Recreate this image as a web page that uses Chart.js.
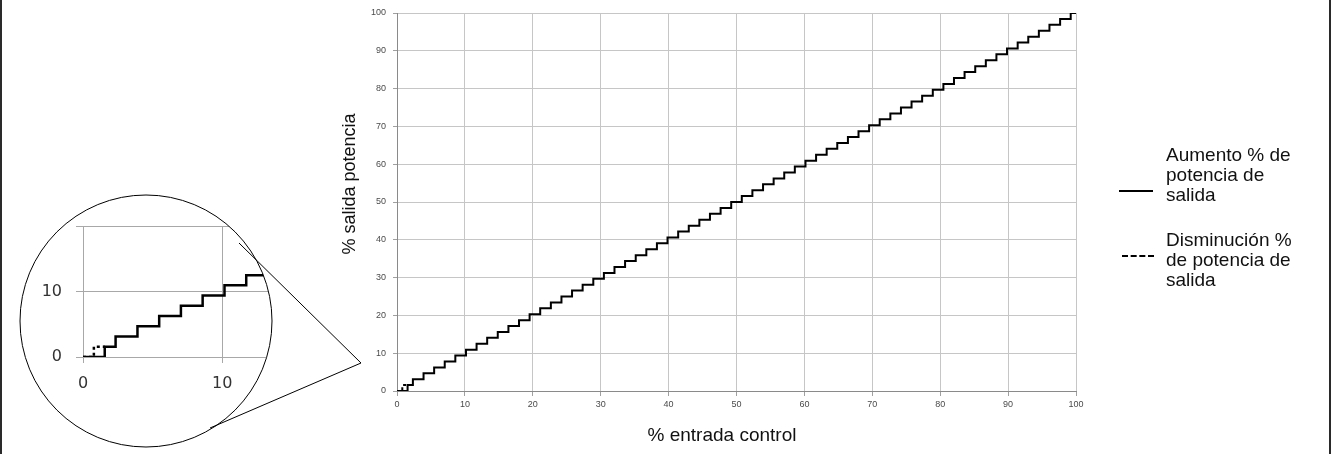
<!DOCTYPE html>
<html>
<head>
<meta charset="utf-8">
<script src="https://cdn.jsdelivr.net/npm/chart.js@4/dist/chart.umd.min.js"></script>
<style>
	html, body { margin: 0; padding: 0; background: #fff; }
	#page { position: relative; width: 1331px; height: 454px; overflow: hidden; font-family: 'Liberation Sans', Arial, sans-serif; color: #111; }
	#main { position: absolute; left: 0; top: 0; }
	#zoomBox { position: absolute; left: 20px; top: 195px; width: 252px; height: 252px; border-radius: 50%; overflow: hidden; background: #fff; }
	#zoomBox canvas { position: absolute; left: 0; top: 0; }
	#deco { position: absolute; left: 0; top: 0; pointer-events: none; }
	.edge { position: absolute; top: 0; width: 2px; height: 454px; background: #2a2a2a; }
	.ytitle { position: absolute; left: 249px; top: 174px; width: 200px; height: 20px; line-height: 20px; text-align: center; transform: rotate(-90deg); font-size: 18px; white-space: nowrap; }
	.xtitle { position: absolute; left: 622px; top: 425px; width: 200px; height: 20px; line-height: 20px; text-align: center; font-size: 19px; white-space: nowrap; }
	.legend { position: absolute; left: 1166px; font-size: 19px; line-height: 20px; }
	.key { position: absolute; height: 0; }
</style>
</head>
<body>
<div id="page">
	<canvas id="main" width="1331" height="454"></canvas>
	<div class="edge" style="left:0"></div>
	<div class="edge" style="left:1329px"></div>

	<div class="ytitle">% salida potencia</div>
	<div class="xtitle">% entrada control</div>

	<div class="legend" style="top:145px">Aumento % de<br>potencia de<br>salida</div>
	<div class="key" style="left:1119px; top:190px; width:34px; border-top:2px solid #000"></div>
	<div class="legend" style="top:230px">Disminución %<br>de potencia de<br>salida</div>
	<div class="key" style="left:1122px; top:255px; width:32px; border-top:2px dashed #000"></div>

	<div id="zoomBox"><canvas id="zoom" width="252" height="252"></canvas></div>

	<svg id="deco" width="1331" height="454">
		<circle cx="146" cy="321" r="126" fill="none" stroke="#000" stroke-width="1"/>
		<polyline points="239,243 361,363 210,428" fill="none" stroke="#000" stroke-width="1"/>
	</svg>
</div>

<script>
// x position (% entrada) where the output rises to the next level
var riseX = [1.56, 2.34, 3.91, 5.47, 7.03, 8.59, 10.16, 11.72, 13.28, 14.84,
	16.41, 17.97, 19.53, 21.09, 22.66, 24.22, 25.78, 27.34, 28.91, 30.47,
	32.03, 33.59, 35.16, 36.72, 38.28, 39.84, 41.41, 42.97, 44.53, 46.09,
	47.66, 49.22, 50.78, 52.34, 53.91, 55.47, 57.03, 58.59, 60.16, 61.72,
	63.28, 64.84, 66.41, 67.97, 69.53, 71.09, 72.66, 74.22, 75.78, 77.34,
	78.91, 80.47, 82.03, 83.59, 85.16, 86.72, 88.28, 89.84, 91.41, 92.97,
	94.53, 96.09, 97.66, 99.22]
// output level (% salida) after each rise
var levelY = [1.56, 3.13, 4.69, 6.25, 7.81, 9.38, 10.94, 12.5, 14.06, 15.63,
	17.19, 18.75, 20.31, 21.88, 23.44, 25, 26.56, 28.13, 29.69, 31.25,
	32.81, 34.38, 35.94, 37.5, 39.06, 40.63, 42.19, 43.75, 45.31, 46.88,
	48.44, 50, 51.56, 53.13, 54.69, 56.25, 57.81, 59.38, 60.94, 62.5,
	64.06, 65.63, 67.19, 68.75, 70.31, 71.88, 73.44, 75, 76.56, 78.13,
	79.69, 81.25, 82.81, 84.38, 85.94, 87.5, 89.06, 90.63, 92.19, 93.75,
	95.31, 96.88, 98.44, 100]
// decrease curve, only differs near the origin
var downX = [0, 0.78, 1.56]
var downY = [0, 1.56, 1.56]

var xTicks = [0, 10, 20, 30, 40, 50, 60, 70, 80, 90, 100]
var yTicks = [0, 10, 20, 30, 40, 50, 60, 70, 80, 90, 100]

function upPoints() {
	var pts = [{ x: 0, y: 0 }]
	for (var i = 0; i < riseX.length; i++) {
		pts.push({ x: riseX[i], y: levelY[i] })
	}
	pts.push({ x: 100, y: 100 })
	return pts
}
function downPoints() {
	return downX.map(function(x, i) { return { x: x, y: downY[i] } })
}

function datasets(width) {
	return [{
		label: 'Aumento % de potencia de salida',
		data: upPoints(),
		borderColor: '#000',
		borderWidth: width,
		stepped: 'before',
		pointRadius: 0
	}, {
		label: 'Disminución % de potencia de salida',
		data: downPoints(),
		borderColor: '#000',
		borderWidth: width,
		borderDash: [3, 3],
		stepped: 'before',
		pointRadius: 0
	}]
}

var tickFont = { family: "'Liberation Sans Narrow', 'Liberation Sans', Arial, sans-serif", size: 9 }

new Chart(document.getElementById('main'), {
	type: 'line',
	data: { datasets: datasets(2) },
	options: {
		responsive: false,
		animation: false,
		layout: { padding: { left: 0, top: 13, right: 255, bottom: 0 } },
		plugins: { legend: { display: false }, tooltip: { enabled: false } },
		scales: {
			x: {
				type: 'linear', min: 0, max: 100,
				afterFit: function(s) { s.height = 63 },
				afterBuildTicks: function(s) { s.ticks = xTicks.map(function(v) { return { value: v } }) },
				grid: { color: '#c6c6c6', tickColor: '#a0a0a0', tickLength: 5 },
				border: { color: '#8a8a8a' },
				ticks: { color: '#4a4a4a', font: tickFont, padding: 3, maxRotation: 0 }
			},
			y: {
				type: 'linear', min: 0, max: 100,
				afterFit: function(s) { s.width = 397 },
				afterBuildTicks: function(s) { s.ticks = yTicks.map(function(v) { return { value: v } }) },
				grid: { color: '#c6c6c6', tickColor: '#a0a0a0', tickLength: 4 },
				border: { color: '#8a8a8a' },
				ticks: { color: '#4a4a4a', font: tickFont, padding: 7 }
			}
		}
	}
})

// magnified view of the origin
var zoomFont = { family: "'DejaVu Sans', sans-serif", size: 16 }
new Chart(document.getElementById('zoom'), {
	type: 'line',
	data: { datasets: datasets(2.5) },
	options: {
		responsive: false,
		animation: false,
		layout: { padding: { left: 0, top: 31, right: 0, bottom: 0 } },
		plugins: { legend: { display: false }, tooltip: { enabled: false } },
		scales: {
			x: {
				type: 'linear', min: 0, max: 13.57,
				afterFit: function(s) { s.height = 90 },
				afterBuildTicks: function(s) { s.ticks = [{ value: 0 }, { value: 10 }] },
				grid: { color: '#a8a8a8', tickColor: '#a8a8a8', tickLength: 6 },
				border: { color: '#a8a8a8' },
				ticks: { color: '#333', font: zoomFont, padding: 11, maxRotation: 0 }
			},
			y: {
				type: 'linear', min: 0, max: 20,
				afterFit: function(s) { s.width = 63 },
				afterBuildTicks: function(s) { s.ticks = [{ value: 0 }, { value: 10 }, { value: 20 }] },
				grid: { color: '#a8a8a8', tickColor: '#a8a8a8', tickLength: 7 },
				border: { color: '#a8a8a8' },
				ticks: {
					color: '#333', font: zoomFont, padding: 14,
					callback: function(v) { return v === 20 ? '' : v }
				}
			}
		}
	}
})
</script>
</body>
</html>
